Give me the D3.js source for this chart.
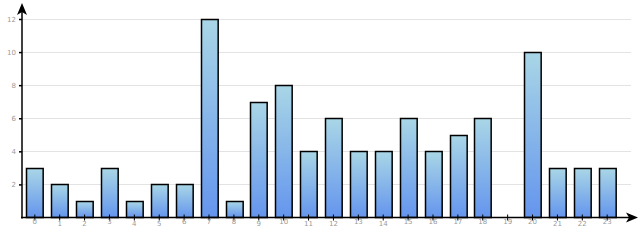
<!DOCTYPE html>
<html><head><meta charset="utf-8">
<script src="https://cdn.jsdelivr.net/npm/d3@7"></script>
<style>body{margin:0;background:#fff}svg{display:block}</style>
</head><body>
<svg id="c" width="640" height="240"></svg>
<script>
const categories = ["0","1","2","3","4","5","6","7","8","9","10","11","12","13","14","15","16","17","18","19","20","21","22","23"];
const values = [3,2,1,3,1,2,2,12,1,7,8,4,6,4,4,6,4,5,6,0,10,3,3,3];
const yTicks = [2,4,6,8,10,12];

const svg = d3.select("#c");
const x0 = 22, x1 = 631, yBase = 217.5, yTop = 19;
const x = d3.scaleBand().domain(categories).range([21.5, 620.5]).paddingInner(0.33).paddingOuter(0.2);
const y = d3.scaleLinear().domain([0, 12]).range([yBase, yTop]);

const defs = svg.append("defs");
const g = defs.append("linearGradient").attr("id","grad").attr("x1",0).attr("y1",0).attr("x2",0).attr("y2",1);
g.append("stop").attr("offset","0%").attr("stop-color","#a9d6e6");
g.append("stop").attr("offset","100%").attr("stop-color","#6495ed");

// grid
svg.append("g").selectAll("line").data(yTicks).join("line")
  .attr("x1", x0).attr("x2", x1)
  .attr("y1", d => Math.round(y(d)) + 0.5).attr("y2", d => Math.round(y(d)) + 0.5)
  .attr("stroke", "#e3e3e3").attr("stroke-width", 1);

// bars
svg.append("g").selectAll("rect").data(values).join("rect")
  .attr("x", (d,i) => Math.round(x(categories[i])) + 0.5)
  .attr("width", x.bandwidth())
  .attr("y", d => Math.round(y(d)) + 0.5)
  .attr("height", d => yBase - Math.round(y(d)) - 0.5)
  .attr("fill", "url(#grad)")
  .attr("stroke", d => d > 0 ? "#000" : "none")
  .attr("stroke-width", 1.5);

// y axis
const yAxis = d3.axisLeft(y).tickValues(yTicks).tickSize(3).tickFormat(d3.format("d"));
const ya = svg.append("g").attr("transform", `translate(${x0},0)`).call(yAxis);
ya.select(".domain").remove();
ya.selectAll(".tick line").attr("stroke", "#000").attr("stroke-width", 1.5);
ya.selectAll(".tick text").attr("fill", "#999").attr("font-family", "DejaVu Sans").attr("font-size", 7).attr("x", -6);

svg.append("line").attr("x1", x0).attr("x2", x0).attr("y1", 8).attr("y2", yBase + 1)
  .attr("stroke", "#000").attr("stroke-width", 1.5);
svg.append("path").attr("d", `M${x0},3 L${x0+5},15 L${x0},12 L${x0-5},15 Z`).attr("fill", "#000");

// x axis
const xAxis = d3.axisBottom(x).tickSize(3).tickSizeOuter(0);
const xa = svg.append("g").attr("transform", `translate(0,${yBase})`).call(xAxis);
xa.select(".domain").remove();
xa.selectAll(".tick line").attr("stroke", "#000").attr("stroke-width", 1).attr("y1", -3).attr("y2", 3);
xa.selectAll(".tick text").attr("fill", "#999").attr("font-family", "DejaVu Sans").attr("font-size", 7)
  .attr("y", (d,i) => [0,3,6,7,8,10,13,15,16,17,18,19,20,23].includes(i) ? 2 : 4);

svg.append("line").attr("x1", x0 - 1).attr("x2", 630).attr("y1", yBase).attr("y2", yBase)
  .attr("stroke", "#000").attr("stroke-width", 1.5);
svg.append("path").attr("d", `M638,${yBase} L626,${yBase-5} L629,${yBase} L626,${yBase+5} Z`).attr("fill", "#000");
</script>
</body></html>
